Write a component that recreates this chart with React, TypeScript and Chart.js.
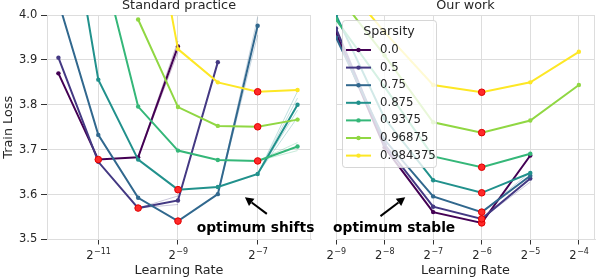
import React, { useEffect, useRef } from 'react';
import { Chart, registerables } from 'chart.js';
Chart.register(...registerables);

const FONT = '"DejaVu Sans", sans-serif';
const TXT = '#262626';
const GRID = '#dddddd';

// ---------- data ----------
const sparsity = ['0.0', '0.5', '0.75', '0.875', '0.9375', '0.96875', '0.984375'];
const colors = ['#440154', '#443983', '#31688e', '#21918c', '#35b779', '#90d743', '#fde725'];

const yTicks = [3.5, 3.6, 3.7, 3.8, 3.9, 4.0];
const leftTicks = [-11, -9, -7];
const rightTicks = [-9, -8, -7, -6, -5, -4];

// Standard practice: log2(learning rate)
const leftExps = [-12, -11, -10, -9, -8, -7, -6];
const left_0 = [3.870, 3.678, 3.683, 3.930, null, null, null];
const left_05 = [3.905, 3.673, 3.570, 3.587, 3.895, null, null];
const left_075 = [4.030, 3.733, 3.593, 3.541, 3.601, 3.976, null];
const left_0875 = [4.380, 3.856, 3.678, 3.611, 3.617, 3.646, 3.800];
const left_09375 = [null, 4.150, 3.796, 3.698, 3.677, 3.675, 3.707];
const left_096875 = [null, null, 3.990, 3.795, 3.753, 3.751, 3.767];
const left_0984375 = [null, null, 4.400, 3.924, 3.850, 3.829, 3.833];

// Our work
const rightExps = [-9, -8, -7, -6, -5, -4];
const right_0 = [3.960, 3.705, 3.561, 3.537, 3.687, null];
const right_05 = [3.970, 3.712, 3.573, 3.546, 3.636, null];
const right_075 = [3.950, 3.722, 3.596, 3.561, 3.642, null];
const right_0875 = [4.000, 3.770, 3.632, 3.604, 3.648, null];
const right_09375 = [3.990, 3.840, 3.685, 3.661, 3.691, null];
const right_096875 = [4.050, 3.910, 3.761, 3.738, 3.765, 3.844];
const right_0984375 = [4.090, 3.962, 3.844, 3.828, 3.850, 3.918];

// faint per-seed runs (series index, lr exps, losses)
const leftSeeds = [
  { s: 0, exps: [-10, -9], vals: [3.683, 3.918] },
  { s: 0, exps: [-10, -9], vals: [3.683, 3.942] },
  { s: 1, exps: [-10, -9], vals: [3.570, 3.578] },
  { s: 1, exps: [-10, -9], vals: [3.570, 3.597] },
  { s: 2, exps: [-8, -7], vals: [3.601, 3.955] },
  { s: 2, exps: [-8, -7], vals: [3.601, 3.995] },
  { s: 3, exps: [-7, -6], vals: [3.646, 3.772] },
  { s: 3, exps: [-7, -6], vals: [3.646, 3.788] },
  { s: 3, exps: [-7, -6], vals: [3.646, 3.815] },
  { s: 3, exps: [-7, -6], vals: [3.646, 3.830] },
  { s: 4, exps: [-7, -6], vals: [3.675, 3.698] },
  { s: 4, exps: [-7, -6], vals: [3.675, 3.716] },
];
const rightSeeds = [
  { s: 1, exps: [-6, -5], vals: [3.546, 3.628] },
  { s: 2, exps: [-6, -5], vals: [3.561, 3.650] },
];

const leftSeries = [left_0, left_05, left_075, left_0875, left_09375, left_096875, left_0984375];
const rightSeries = [right_0, right_05, right_075, right_0875, right_09375, right_096875, right_0984375];

// ---------- helpers ----------
function rgba(hex: string, a: number) {
  const n = parseInt(hex.slice(1), 16);
  return `rgba(${(n >> 16) & 255},${(n >> 8) & 255},${n & 255},${a})`;
}

function buildDatasets(exps: number[], series: (number | null)[][], seeds: { s: number; exps: number[]; vals: number[] }[]) {
  const ds: any[] = [];
  series.forEach((vals, i) => {
    ds.push({
      label: sparsity[i],
      data: exps.map((e, j) => (vals[j] == null ? null : { x: e, y: vals[j] })).filter(Boolean),
      borderColor: colors[i],
      backgroundColor: colors[i],
      pointBackgroundColor: colors[i],
      borderWidth: 2,
      pointRadius: 2.2,
      pointBorderWidth: 0,
      tension: 0,
      clip: 0,
      order: 20 - i,
    });
  });
  seeds.forEach((sd) => {
    ds.push({
      label: 'seed',
      data: sd.exps.map((e, j) => ({ x: e, y: sd.vals[j] })),
      borderColor: rgba(colors[sd.s], 0.28),
      borderWidth: 1,
      pointRadius: 0,
      clip: 0,
      order: 50,
    });
  });
  const opt = series.map((vals) => {
    let bi = -1;
    vals.forEach((v, j) => {
      if (v != null && (bi < 0 || v < (vals[bi] as number))) bi = j;
    });
    return { x: exps[bi], y: vals[bi] };
  });
  ds.push({
    label: 'optimum',
    data: opt,
    showLine: false,
    pointRadius: 3.3,
    pointBackgroundColor: '#ff2a2a',
    pointBorderColor: '#e00000',
    pointBorderWidth: 1,
    clip: 0,
    order: 0,
  });
  return ds;
}

function drawArrow(ctx: CanvasRenderingContext2D, x1: number, y1: number, x2: number, y2: number) {
  const ang = Math.atan2(y2 - y1, x2 - x1);
  const hl = 8.5, hw = 4.5;
  const bx = x2 - hl * Math.cos(ang), by = y2 - hl * Math.sin(ang);
  ctx.save();
  ctx.strokeStyle = '#000';
  ctx.lineWidth = 2;
  ctx.beginPath();
  ctx.moveTo(x1, y1);
  ctx.lineTo(bx, by);
  ctx.stroke();
  ctx.fillStyle = '#000';
  ctx.beginPath();
  ctx.moveTo(x2, y2);
  ctx.lineTo(bx + hw * Math.sin(ang), by - hw * Math.cos(ang));
  ctx.lineTo(bx - hw * Math.sin(ang), by + hw * Math.cos(ang));
  ctx.closePath();
  ctx.fill();
  ctx.restore();
}

const framePlugin = {
  id: 'frame',
  beforeDatasetsDraw(chart: any) {
    const { ctx, chartArea: a } = chart;
    ctx.save();
    ctx.strokeStyle = GRID;
    ctx.lineWidth = 1;
    const l = Math.round(a.left) + 0.5, t = Math.round(a.top) + 0.5;
    const r = Math.round(a.right) - 0.5, b = Math.round(a.bottom) - 0.5;
    ctx.strokeRect(l, t, r - l, b - t);
    ctx.restore();
  },
};

function overlayPlugin(
  title: string,
  xTicks: number[],
  annot: { text: string; tx: number; ty: number; ax1: number; ay1: number; ax2: number; ay2: number },
  legend: boolean
) {
  return {
    id: 'overlay_' + title.replace(/\s/g, ''),
    afterDatasetsDraw(chart: any) {
      if (!legend) return;
      const { ctx, chartArea: a } = chart;
      const bx = a.left + 6, by = a.top + 5, bw = 94, bh = 147;
      ctx.save();
      ctx.beginPath();
      (ctx as any).roundRect(bx + 0.5, by + 0.5, bw, bh, 3);
      ctx.fillStyle = 'rgba(255,255,255,0.8)';
      ctx.fill();
      ctx.strokeStyle = 'rgba(204,204,204,0.8)';
      ctx.lineWidth = 1;
      ctx.stroke();
      ctx.fillStyle = TXT;
      ctx.textBaseline = 'middle';
      ctx.textAlign = 'center';
      ctx.font = `12.7px ${FONT}`;
      ctx.fillText('Sparsity', bx + bw / 2, by + 12);
      ctx.textAlign = 'left';
      ctx.font = `11.7px ${FONT}`;
      sparsity.forEach((s, i) => {
        const y = by + 30 + i * 17.6;
        ctx.strokeStyle = colors[i];
        ctx.lineWidth = 2;
        ctx.beginPath();
        ctx.moveTo(bx + 4, y);
        ctx.lineTo(bx + 29, y);
        ctx.stroke();
        ctx.fillStyle = colors[i];
        ctx.beginPath();
        ctx.arc(bx + 16.5, y, 2.2, 0, Math.PI * 2);
        ctx.fill();
        ctx.fillStyle = TXT;
        ctx.fillText(s, bx + 38, y);
      });
      ctx.restore();
    },
    afterDraw(chart: any) {
      const { ctx, chartArea: a, scales } = chart;
      const xs = scales.x, ys = scales.y;
      ctx.save();
      // panel title
      ctx.fillStyle = TXT;
      ctx.font = `12.8px ${FONT}`;
      ctx.textAlign = 'center';
      ctx.textBaseline = 'alphabetic';
      ctx.fillText(title, (a.left + a.right) / 2, 9);
      // x tick labels 2^n with superscript exponent
      ctx.textAlign = 'left';
      xTicks.forEach((v) => {
        const base = '2';
        const exp = '\u2212' + String(Math.abs(v));
        ctx.font = `11.5px ${FONT}`;
        const w1 = ctx.measureText(base).width;
        ctx.font = `8px ${FONT}`;
        const w2 = ctx.measureText(exp).width;
        const x0 = xs.getPixelForValue(v) - (w1 + w2) / 2;
        ctx.font = `11.5px ${FONT}`;
        ctx.fillText(base, x0, 259);
        ctx.font = `8px ${FONT}`;
        ctx.fillText(exp, x0 + w1 + 0.5, 253.5);
      });
      // annotation
      ctx.fillStyle = '#000';
      ctx.font = `bold 13.8px ${FONT}`;
      ctx.textAlign = 'left';
      ctx.fillText(annot.text, xs.getPixelForValue(annot.tx), ys.getPixelForValue(annot.ty));
      ctx.restore();
      drawArrow(ctx, xs.getPixelForValue(annot.ax1), ys.getPixelForValue(annot.ay1), xs.getPixelForValue(annot.ax2), ys.getPixelForValue(annot.ay2));
    },
  };
}

function makeConfig(side: 'left' | 'right'): any {
  const isLeft = side === 'left';
  const datasets = isLeft ? buildDatasets(leftExps, leftSeries, leftSeeds) : buildDatasets(rightExps, rightSeries, rightSeeds);
  const xTicks = isLeft ? leftTicks : rightTicks;
  return {
    type: 'line',
    data: { datasets },
    options: {
      responsive: false,
      animation: false,
      events: [],
      layout: { padding: isLeft ? { left: 0, top: 15, right: 289, bottom: 0 } : { left: 336, top: 15, right: 2, bottom: 0 } },
      plugins: { legend: { display: false }, tooltip: { enabled: false }, title: { display: false } },
      scales: {
        x: {
          type: 'linear',
          min: isLeft ? -12.287 : -9,
          max: isLeft ? -5.662 : -3.668,
          afterBuildTicks: (s: any) => { s.ticks = xTicks.map((v) => ({ value: v })); },
          afterFit: (s: any) => { s.height = 40.5; },
          grid: { color: GRID, tickColor: '#333333', tickLength: 5, lineWidth: 1 },
          border: { color: GRID },
          ticks: { display: false },
          title: { display: true, text: 'Learning Rate', font: { size: 12.8, family: FONT }, color: TXT, padding: { top: 0, bottom: 1.5 } },
        },
        y: {
          min: 3.5,
          max: 4.0,
          afterBuildTicks: (s: any) => { s.ticks = yTicks.map((v) => ({ value: v })); },
          afterFit: (s: any) => { s.width = isLeft ? 47 : 0; },
          grid: { color: GRID, tickColor: '#333333', tickLength: 6, lineWidth: 1, drawTicks: isLeft },
          border: { color: GRID },
          ticks: { display: isLeft, callback: (v: number) => v.toFixed(1), font: { size: 11.5, family: FONT }, color: TXT, padding: 3.7 },
          title: { display: isLeft, text: 'Train Loss', font: { size: 12.8, family: FONT }, color: TXT, padding: { top: 0.5, bottom: 0 } },
        },
      },
    },
    plugins: [
      framePlugin,
      isLeft
        ? overlayPlugin('Standard practice', xTicks, { text: 'optimum shifts', tx: -8.53, ty: 3.516, ax1: -6.77, ay1: 3.557, ax2: -7.32, ay2: 3.594 }, false)
        : overlayPlugin('Our work', xTicks, { text: 'optimum stable', tx: -9.06, ty: 3.516, ax1: -8.084, ay1: 3.552, ax2: -7.575, ay2: 3.594 }, true),
    ],
  };
}

export default function App() {
  const leftRef = useRef<HTMLCanvasElement>(null);
  const rightRef = useRef<HTMLCanvasElement>(null);
  useEffect(() => {
    Chart.defaults.font.family = FONT;
    const c1 = new Chart(leftRef.current as HTMLCanvasElement, makeConfig('left'));
    const c2 = new Chart(rightRef.current as HTMLCanvasElement, makeConfig('right'));
    return () => {
      c1.destroy();
      c2.destroy();
    };
  }, []);
  const cs: React.CSSProperties = { position: 'absolute', left: 0, top: 0, width: 600, height: 280, display: 'block' };
  return (
    <div style={{ position: 'absolute', left: 0, top: 0, width: 600, height: 280, background: '#fff' }}>
      <canvas ref={leftRef} width={600} height={280} style={cs} />
      <canvas ref={rightRef} width={600} height={280} style={cs} />
    </div>
  );
}
